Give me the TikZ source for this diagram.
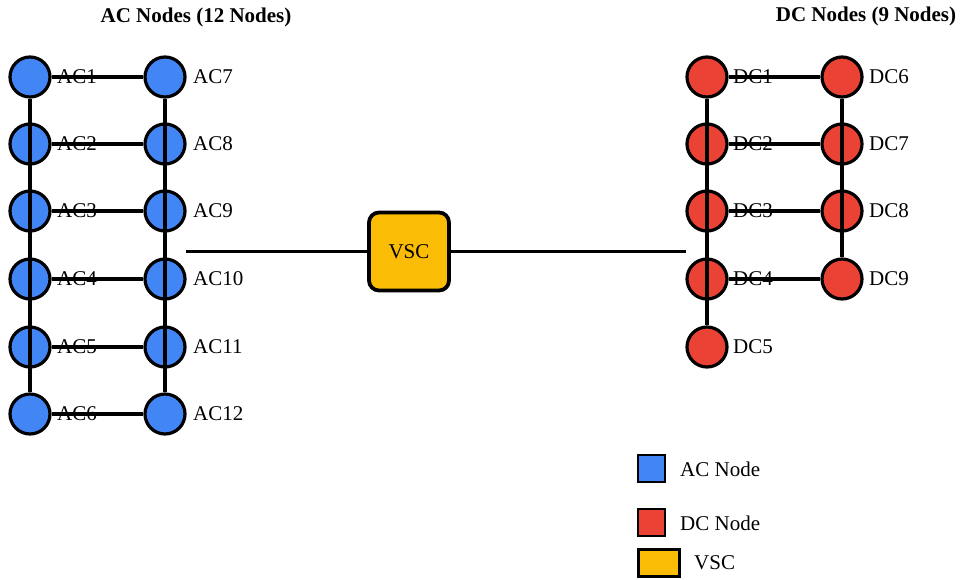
\documentclass[tikz,border=0pt]{standalone}
\usepackage{fontspec}
\setmainfont{Liberation Serif}
\usetikzlibrary{positioning}
\definecolor{acblue}{HTML}{4285F4}
\definecolor{dcred}{HTML}{EA4335}
\definecolor{vscyellow}{HTML}{FBBC05}

\begin{document}
\begin{tikzpicture}[x=1pt,y=-1pt,font=\rmfamily\fontsize{21}{25}\selectfont,
  bus/.style={circle,draw,line width=3.2pt,minimum size=40pt,inner sep=0pt},
  acbus/.style={bus,fill=acblue},
  dcbus/.style={bus,fill=dcred},
  tag/.style={anchor=west,inner sep=0pt},
  conv/.style={draw,line width=3.8pt,fill=vscyellow,rounded corners=10pt,minimum width=80pt,minimum height=78pt},
  line/.style={line width=3.2pt},
  legbox/.style={draw,line width=2.8pt,minimum size=27pt,inner sep=0pt}]
\useasboundingbox (0,0) rectangle (966,579);

% titles
\node[font=\rmfamily\fontsize{21}{25}\selectfont\bfseries] at (196,17) (actitle) {AC Nodes (12 Nodes)};
\node[font=\rmfamily\fontsize{21}{25}\selectfont\bfseries] at (866,16) (dctitle) {DC Nodes (9 Nodes)};

% AC side
\node[acbus] at (30,77) (ac1) {};
\node[acbus] at (30,144) (ac2) {};
\node[acbus] at (30,211) (ac3) {};
\node[acbus] at (30,279) (ac4) {};
\node[acbus] at (30,347) (ac5) {};
\node[acbus] at (30,414) (ac6) {};
\node[acbus] at (165,77) (ac7) {};
\node[acbus] at (165,144) (ac8) {};
\node[acbus] at (165,211) (ac9) {};
\node[acbus] at (165,279) (ac10) {};
\node[acbus] at (165,347) (ac11) {};
\node[acbus] at (165,414) (ac12) {};
\node[tag] at (57,77) (ac1l) {AC1};
\node[tag] at (57,144) (ac2l) {AC2};
\node[tag] at (57,211) (ac3l) {AC3};
\node[tag] at (57,279) (ac4l) {AC4};
\node[tag] at (57,347) (ac5l) {AC5};
\node[tag] at (57,414) (ac6l) {AC6};
\node[tag] at (193,77) (ac7l) {AC7};
\node[tag] at (193,144) (ac8l) {AC8};
\node[tag] at (193,211) (ac9l) {AC9};
\node[tag] at (193,279) (ac10l) {AC10};
\node[tag] at (193,347) (ac11l) {AC11};
\node[tag] at (193,414) (ac12l) {AC12};

% DC side
\node[dcbus] at (707,77) (dc1) {};
\node[dcbus] at (707,144) (dc2) {};
\node[dcbus] at (707,211) (dc3) {};
\node[dcbus] at (707,279) (dc4) {};
\node[dcbus] at (707,347) (dc5) {};
\node[dcbus] at (842,77) (dc6) {};
\node[dcbus] at (842,144) (dc7) {};
\node[dcbus] at (842,211) (dc8) {};
\node[dcbus] at (842,279) (dc9) {};
\node[tag] at (733,77) (dc1l) {DC1};
\node[tag] at (733,144) (dc2l) {DC2};
\node[tag] at (733,211) (dc3l) {DC3};
\node[tag] at (733,279) (dc4l) {DC4};
\node[tag] at (733,347) (dc5l) {DC5};
\node[tag] at (869,77) (dc6l) {DC6};
\node[tag] at (869,144) (dc7l) {DC7};
\node[tag] at (869,211) (dc8l) {DC8};
\node[tag] at (869,279) (dc9l) {DC9};

% converter
\node[conv] at (409,251.5) (vsc) {VSC};
\coordinate (acend) at (186,251.5);
\coordinate (dcend) at (686,251.5);

\draw[line] (ac1) -- (ac6);
\draw[line] (ac7) -- (ac12);
\draw[line] (ac1) -- (ac7);
\draw[line] (ac2) -- (ac8);
\draw[line] (ac3) -- (ac9);
\draw[line] (ac4) -- (ac10);
\draw[line] (ac5) -- (ac11);
\draw[line] (ac6) -- (ac12);

\draw[line] (dc1) -- (dc5);
\draw[line] (dc6) -- (dc9);
\draw[line] (dc1) -- (dc6);
\draw[line] (dc2) -- (dc7);
\draw[line] (dc3) -- (dc8);
\draw[line] (dc4) -- (dc9);

\draw[line] (acend) -- (vsc);
\draw[line] (vsc) -- (dcend);

% legend
\node[legbox,fill=acblue] at (651.5,468.5) (legac) {};
\node[tag] at (680,469) (legactext) {AC Node};
\node[legbox,fill=dcred] at (651.5,522.5) (legdc) {};
\node[tag] at (680,523) (legdctext) {DC Node};
\node[legbox,line width=3.8pt,fill=vscyellow,minimum width=41pt,minimum height=27pt] at (659,563) (legvsc) {};
\node[tag] at (694,563) (legvsctext) {VSC};
\end{tikzpicture}
\end{document}
